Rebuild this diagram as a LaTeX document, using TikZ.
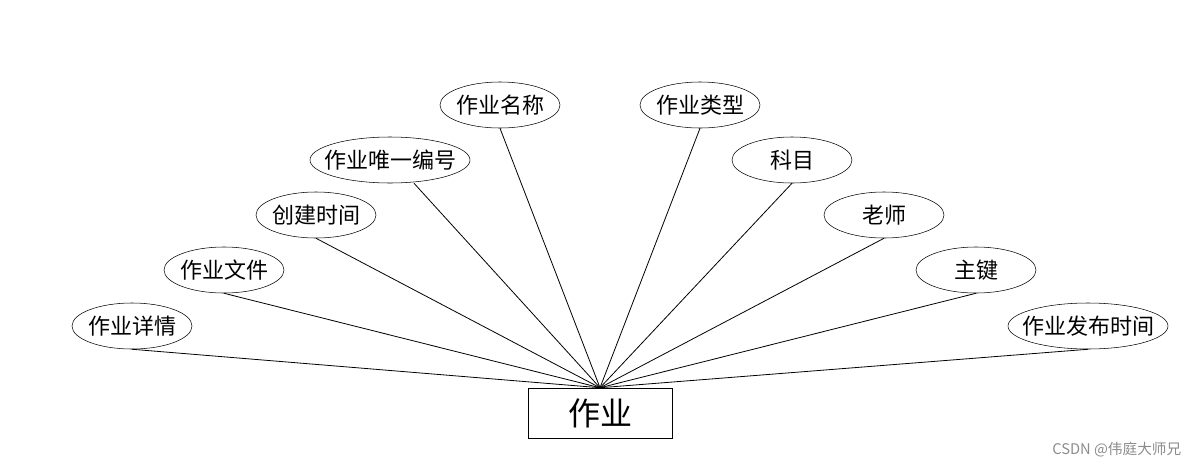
\documentclass[tikz,border=0pt]{standalone}
\usepackage{fontspec}
\setmainfont{Noto Sans CJK SC}
\usepackage{tikz}
\usetikzlibrary{shapes.geometric}

\begin{document}
\begin{tikzpicture}[x=0.75pt,y=-0.75pt,
  attr/.style={shape=ellipse,draw=black,inner xsep=-8pt,inner ysep=0pt,minimum width=90pt,minimum height=34.5pt,font=\fontsize{16.5}{16.5}\selectfont},
  wattr/.style={attr,minimum width=120pt},
  entity/.style={shape=rectangle,draw=black,inner sep=0pt,minimum width=108pt,minimum height=37.5pt,font=\fontsize{24}{24}\selectfont},
  link/.style={draw=black,line width=0.6pt}]
  \useasboundingbox (0,0) rectangle (1200,468);
  \node[entity] (W) at (600,413) {作业};
  \node[attr] (A) at (132,326) {作业详情};
  \node[attr] (B) at (224,270) {作业文件};
  \node[attr] (C) at (316,215) {创建时间};
  \node[wattr] (D) at (390,160) {作业唯一编号};
  \node[attr] (E) at (500,105) {作业名称};
  \node[attr] (F) at (700,105) {作业类型};
  \node[attr] (G) at (792,160) {科目};
  \node[attr] (H) at (884,215) {老师};
  \node[attr] (I) at (976,270) {主键};
  \node[wattr] (J) at (1088,326) {作业发布时间};
  \path [link] (A.south) -- (W.north);
  \path [link] (B.south) -- (W.north);
  \path [link] (C.south) -- (W.north);
  \path [link] ([xshift=18pt]D.south) -- (W.north);
  \path [link] (E.south) -- (W.north);
  \path [link] (F.south) -- (W.north);
  \path [link] (G.south) -- (W.north);
  \path [link] (H.south) -- (W.north);
  \path [link] (I.south) -- (W.north);
  \path [link] (J.south) -- (W.north);
  \node[text=black!45,font=\fontsize{11}{11}\selectfont,anchor=east] (M) at (1186,450) {CSDN @伟庭大师兄};
\end{tikzpicture}
\end{document}
